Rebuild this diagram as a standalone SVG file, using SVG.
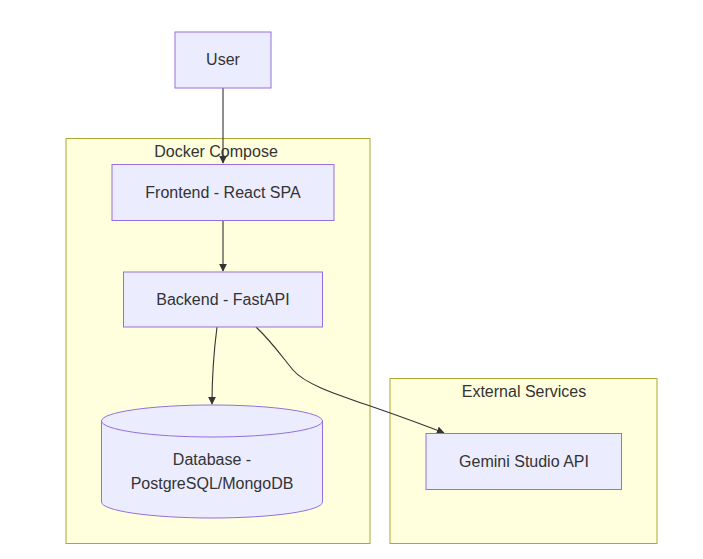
<svg xmlns="http://www.w3.org/2000/svg" width="703" height="559" viewBox="0 0 703 559">
<defs>
<style>
.cluster{fill:#ffffde;stroke:#aaaa33;stroke-width:1}
.node{fill:#ececff;stroke:#9370db;stroke-width:1}
.lbl{font-family:"Liberation Sans",Arial,sans-serif;font-size:16px;fill:#333;text-anchor:middle;dominant-baseline:central}
.edge{fill:none;stroke:#333;stroke-width:1.1}
</style>
<marker id="arrow" viewBox="0 0 10 10" refX="9" refY="5" markerWidth="8" markerHeight="8" markerUnits="userSpaceOnUse" orient="auto">
<path d="M0,0 L10,5 L0,10 z" fill="#333"/>
</marker>
</defs>
<rect width="703" height="559" fill="#ffffff"/>
<g id="cluster-docker">
<rect class="cluster" x="66" y="138.5" width="304" height="405"/>
<text class="lbl" x="216" y="151">Docker Compose</text>
</g>
<g id="cluster-external">
<rect class="cluster" x="390" y="378.5" width="267" height="165"/>
<text class="lbl" x="524" y="391">External Services</text>
</g>
<g id="connectors">
<path class="edge" d="M223,88 L223,163" marker-end="url(#arrow)"/>
<path class="edge" d="M223,220 L223,271" marker-end="url(#arrow)"/>
<path class="edge" d="M217,327 C214,350 212,375 212,404" marker-end="url(#arrow)"/>
<path class="edge" d="M256,327 C272,342 283,358 293,370 C310,390 360,400 444,433" marker-end="url(#arrow)"/>
</g>
<g id="node-user">
<rect class="node" x="175" y="32" width="96" height="56"/>
<text class="lbl" x="223" y="59">User</text>
</g>
<g id="node-frontend">
<rect class="node" x="112" y="164.5" width="222" height="56"/>
<text class="lbl" x="223" y="192">Frontend - React SPA</text>
</g>
<g id="node-backend">
<rect class="node" x="123.5" y="272" width="199" height="55"/>
<text class="lbl" x="223" y="299">Backend - FastAPI</text>
</g>
<g id="node-database">
<path class="node" d="M101.5,421 A110.5,16 0 0 1 322.5,421 L322.5,502 A110.5,16 0 0 1 101.5,502 Z"/>
<path class="node" fill="none" d="M101.5,421 A110.5,16 0 0 0 322.5,421"/>
<text class="lbl" x="212" y="459">Database -</text>
<text class="lbl" x="212" y="483">PostgreSQL/MongoDB</text>
</g>
<g id="node-gemini">
<rect class="node" x="426" y="433.5" width="195.5" height="56"/>
<text class="lbl" x="524" y="461.5">Gemini Studio API</text>
</g>
</svg>
